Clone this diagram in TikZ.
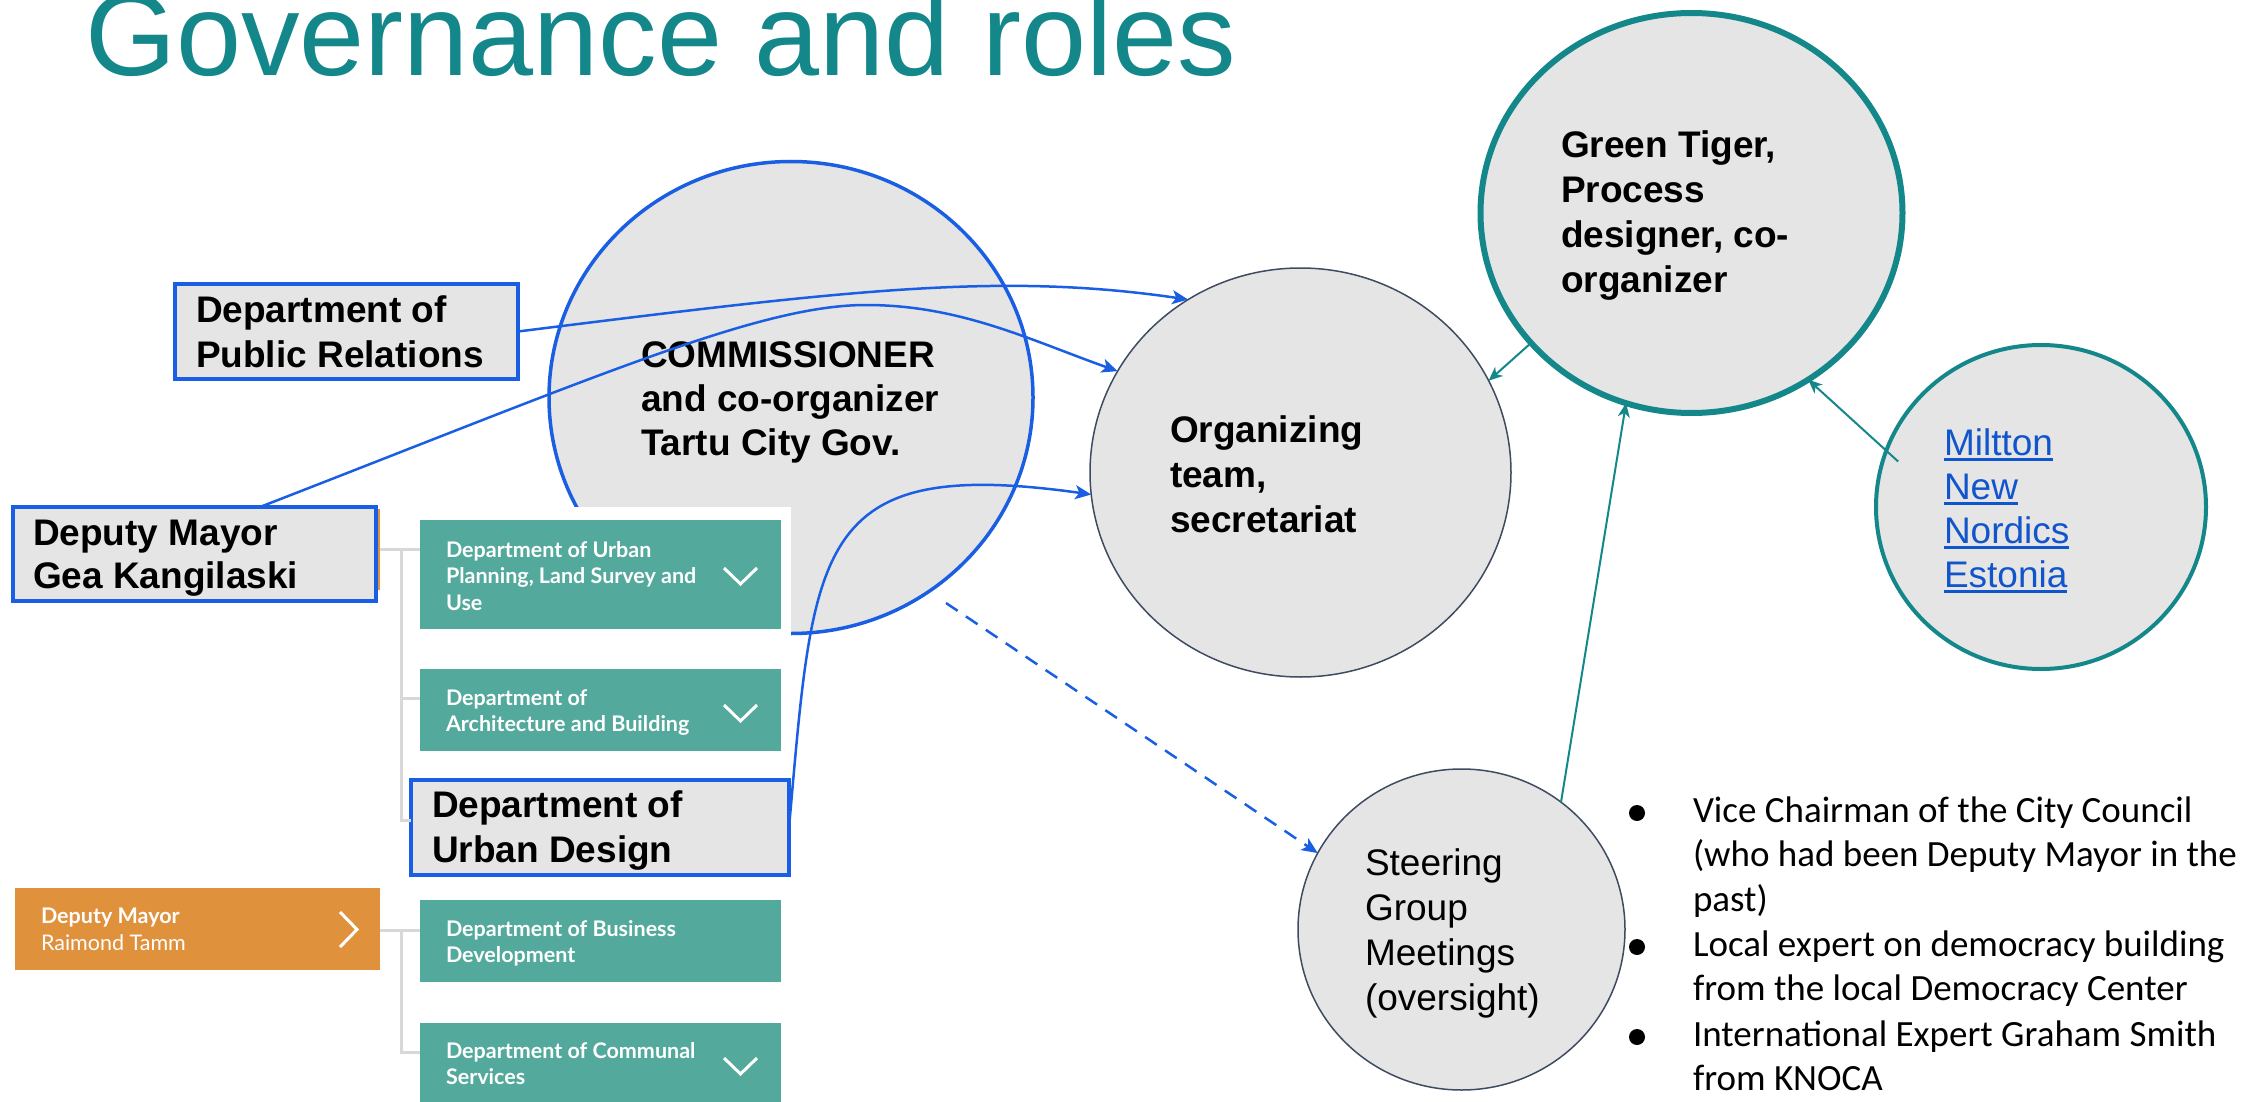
\documentclass[tikz,border=0pt]{standalone}
\usepackage{fontspec}
\setmainfont{Liberation Sans}
\newfontfamily\lato{Lato}
\newfontfamily\carlito{Carlito}
\usetikzlibrary{shapes.geometric,arrows.meta,calc}
\definecolor{bluec}{HTML}{1A5FE3}
\definecolor{tealc}{HTML}{14878A}
\definecolor{greyf}{HTML}{E5E5E5}
\definecolor{darkc}{HTML}{3E4B61}
\definecolor{greenb}{HTML}{53A99C}
\definecolor{orangeb}{HTML}{E0913C}
\definecolor{treec}{HTML}{D8D8D8}
\definecolor{linkc}{HTML}{1155CC}
\newcommand\ml[1]{\begin{tabular}[t]{@{}l@{}}#1\end{tabular}}
\newcommand\ulx[1]{\setbox0\hbox{#1}\rlap{\rule[-2.8pt]{\wd0}{1.5pt}}\box0}
\begin{document}
\begin{tikzpicture}[x=0.5pt,y=-0.5pt,
  ell/.style={ellipse, inner sep=0pt, outer sep=0pt, fill=greyf},
  bbox/.style={rectangle, inner sep=0pt, outer sep=0pt, fill=greyf, draw=bluec, line width=2pt},
  gbox/.style={rectangle, inner sep=0pt, outer sep=0pt, fill=greenb, minimum width=180.5pt},
  obox/.style={rectangle, inner sep=0pt, outer sep=0pt, fill=orangeb},
  lbl/.style={anchor=base west, inner sep=0pt, outer sep=0pt},
  bigb/.style={lbl, font=\fontsize{18.5}{22.5}\selectfont\bfseries},
  bigr/.style={lbl, font=\fontsize{18.5}{22.5}\selectfont},
  gtxt/.style={lbl, text=white, font=\lato\bfseries\fontsize{10.75}{13.25}\selectfont},
  tree/.style={draw=treec, line width=1.5pt},
  chev/.style={draw=white, line width=1.5pt},
  bluearr/.style={draw=bluec, line width=1.25pt, -{Stealth[length=8pt,width=7pt,inset=2pt]}},
  tealarr/.style={draw=tealc, line width=1pt, -{Stealth[length=7pt,width=6pt,inset=2pt]}},
]
\useasboundingbox (0,0) rectangle (2266,1102);
\clip (0,0) rectangle (2266,1102);

% ellipses
\node[ell, draw=bluec, line width=1.75pt, minimum width=242pt, minimum height=236pt] (commis) at (791,397.5) {};
\node[ell, draw=darkc, line width=0.75pt, minimum width=210.5pt, minimum height=204.5pt] (org) at (1300.5,472.5) {};
\node[ell, draw=tealc, line width=3pt, minimum width=211pt, minimum height=200pt] (gt) at (1691.5,213) {};
\node[ell, draw=tealc, line width=2pt, minimum width=165pt, minimum height=162pt] (milt) at (2041,507) {};
\node[ell, draw=darkc, line width=0.75pt, minimum width=163.5pt, minimum height=160.5pt] (steer) at (1461.5,929.5) {};

% white screenshot background
\fill[white] (-5,507) rectangle (791,1110);

% boxes
\node[obox, minimum width=183.5pt, minimum height=40.5pt] (geaor) at (196.5,549.5) {};
\node[bbox, minimum width=171.5pt, minimum height=47.5pt] (PR) at (346.5,331.5) {};
\node[bbox, minimum width=181.5pt, minimum height=47pt] (DMG) at (194.5,554) {};
\node[gbox, minimum height=54.5pt] (UP) at (600.5,574.5) {};
\node[gbox, minimum height=41pt] (arch) at (600.5,710) {};
\node[bbox, minimum width=189pt, minimum height=47.5pt] (UD) at (600,827.5) {};
\node[gbox, minimum height=41pt] (bus) at (600.5,941) {};
\node[gbox, minimum height=43.5pt] (comsrv) at (600.5,1066.5) {};
\node[obox, minimum width=182.5pt, minimum height=41pt] (tamm) at (197.5,929) {};

% tree lines
\coordinate (tA) at (401,549.5);
\coordinate (tB) at (401,930);
\draw[tree] (geaor.east) -- (UP.west |- geaor.east);
\draw[tree] (tA) |- ($(arch.west)+(0,-12)$);
\draw[tree] (tA) |- ($(UD.west)+(0,-7.5)$);
\draw[tree] (tamm.east |- tB) -- (bus.west |- tB);
\draw[tree] (tB) |- ($(comsrv.west)+(0,-14.5)$);

% chevrons
\draw[chev] (724,568) -- (740.5,584) -- (757,568);
\draw[chev] (724,705) -- (740.5,721) -- (757,705);
\draw[chev] (724,1058) -- (740.5,1074) -- (757,1058);
\draw[chev] (340,912) -- (357,929.5) -- (340,947);

% texts
\node[lbl, font=\fontsize{58.5}{60}\selectfont, text=tealc] (title) at (85,76) {Governance and roles};
\node[bigb, font=\fontsize{18.5}{22}\selectfont\bfseries] (commisT) at (641,367) {\ml{COMMISSIONER\\and co-organizer\\Tartu City Gov.}};
\node[bigb] (PRT) at (196,322) {\ml{Department of\\Public Relations}};
\node[bigb, font=\fontsize{18.5}{21.5}\selectfont\bfseries] (DMGT) at (33,545) {\ml{Deputy Mayor\\Gea Kangilaski}};
\node[bigb] (UDT) at (432,817) {\ml{Department of\\Urban Design}};
\node[bigb] (orgT) at (1170,442) {\ml{Organizing\\team,\\secretariat}};
\node[bigb] (gtT) at (1561,158) {\ml{Green Tiger,\\Process\\designer, co-\\organizer}};
\node[bigr, text=linkc, font=\fontsize{18.5}{22}\selectfont] (miltT) at (1944,455) {\ml{\ulx{Miltton}\\\ulx{New}\\\ulx{Nordics}\\\ulx{Estonia}}};
\node[bigr] (steerT) at (1365,875) {\ml{Steering\\Group\\Meetings\\(oversight)}};

\node[gtxt] (UPT) at (446,557) {\ml{Department of Urban\\Planning, Land Survey and\\Use}};
\node[gtxt] (archT) at (446,705) {\ml{Department of\\Architecture and Building}};
\node[gtxt] (busT) at (446,936) {\ml{Department of Business\\Development}};
\node[gtxt] (comsrvT) at (446,1058) {\ml{Department of Communal\\Services}};
\node[lbl, text=white, font=\lato\fontsize{10.75}{13.5}\selectfont] (tammT) at (41,923) {\ml{\textbf{Deputy Mayor}\\Raimond Tamm}};

% bullets
\node[lbl, font=\carlito\fontsize{18.5}{22.35}\selectfont] (b1) at (1693,822) {\ml{Vice Chairman of the City Council\\(who had been Deputy Mayor in the\\past)}};
\node[lbl, font=\carlito\fontsize{18.5}{22.35}\selectfont] (b2) at (1693,956) {\ml{Local expert on democracy building\\from the local Democracy Center}};
\node[lbl, font=\carlito\fontsize{18.5}{22.35}\selectfont] (b3) at (1693,1046) {\ml{International Expert Graham Smith\\from KNOCA}};
\fill (1637,813) circle (4pt);
\fill (1637,947) circle (4pt);
\fill (1637,1037) circle (4pt);

% connectors
\coordinate (dstart) at (946,603);
\draw[bluearr] (PR.east) .. controls (850,290) and (1000,272) .. (org.123.7);
\draw[bluearr] ([xshift=32.75pt]DMG.north) .. controls (600,375) and (760,305) .. (866,305) .. controls (960,305) and (1030,340) .. (org.151.7);
\draw[bluearr] (UD.east) .. controls (814,548) and (812,455) .. (org.-174.7);
\draw[bluearr, dash pattern=on 7pt off 5pt] (dstart) -- (steer.152);
\draw[tealarr] (gt.219) -- (org.26.6);
\draw[tealarr] (steer.52.2) -- (gt.-109.2);
\draw[tealarr, shorten <=-8pt] (milt.160.2) -- (gt.-55.6);
\end{tikzpicture}
\end{document}
